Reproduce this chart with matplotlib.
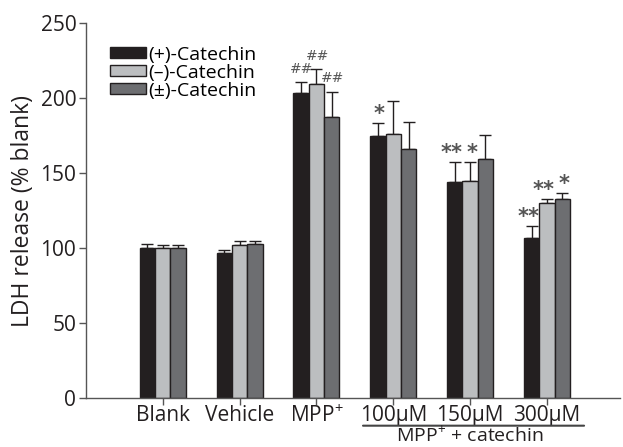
import matplotlib
matplotlib.use("Agg")
import matplotlib.pyplot as plt
import numpy as np

plt.rcParams['font.family'] = ['Open Sans', 'DejaVu Sans']
plt.rcParams['mathtext.fontset'] = 'custom'
plt.rcParams['mathtext.rm'] = 'Open Sans'

groups = ["Blank", "Vehicle", "MPP$^{+}$", "100μM", "150μM", "300μM"]
series = ["(+)-Catechin", "(\u2013)-Catechin", "(\u00b1)-Catechin"]
plus_vals = [100, 97, 203, 174.5, 144, 107]
minus_vals = [100, 102, 209, 176, 144.5, 130]
pm_vals = [100, 103, 187, 166, 159, 133]
plus_err = [2.5, 2, 7.5, 9, 13.5, 7.5]
minus_err = [2, 3, 10, 22, 13, 2.5]
pm_err = [1.8, 1.5, 17, 18, 16.5, 4]
plus_sig = ["", "", "##", "*", "**", "**"]
minus_sig = ["", "", "##", "", "*", "**"]
pm_sig = ["", "", "##", "", "", "*"]

colors = ["#231f20", "#bcbec0", "#6d6e71"]
edge = "#231f20"

fig = plt.figure(figsize=(6.23, 4.47), dpi=100)
ax = fig.add_axes([0.138, 0.109, 0.857, 0.840])

x = np.arange(len(groups))
w = 0.2
vals = [plus_vals, minus_vals, pm_vals]
errs = [plus_err, minus_err, pm_err]
sigs = [plus_sig, minus_sig, pm_sig]
for i in range(3):
    xs = x + (i - 1) * w
    ax.bar(xs, vals[i], w, color=colors[i], edgecolor=edge, linewidth=1.0,
           label=series[i], zorder=2)
    ax.errorbar(xs, vals[i], yerr=[np.zeros(len(x)), errs[i]], fmt='none',
                ecolor="#231f20", elinewidth=1.0, capsize=4, capthick=1.0, zorder=1)
    for xi, v, e, s in zip(xs, vals[i], errs[i], sigs[i]):
        if not s:
            continue
        if s == "##":
            ax.text(xi, v + e + 9, s, ha='center', va='center', fontsize=10,
                    style='italic', color="#555555", family='DejaVu Sans')
        else:
            dx = -0.04 if len(s) == 2 else 0.02
            ax.text(xi + dx, v + e + 6, s, ha='center', va='center',
                    fontsize=15, fontweight='bold', color="#555555", family='DejaVu Sans')

ax.set_xlim(-1.0, 5.95)
ax.set_ylim(0, 250)
ax.set_yticks([0, 50, 100, 150, 200, 250])
ax.set_xticks(x)
ax.set_xticklabels(groups)
ax.tick_params(axis='both', labelsize=15, colors="#231f20", direction='out', length=5,
               width=1.0, color="#555555")
ax.tick_params(axis='x', pad=0, labelsize=15)
ax.tick_params(axis='y', pad=2)
for sp in ['top', 'right']:
    ax.spines[sp].set_visible(False)
for sp in ['left', 'bottom']:
    ax.spines[sp].set_color("#555555")
    ax.spines[sp].set_linewidth(1.0)
ax.set_ylabel("LDH release (% blank)", fontsize=16.5, color="#231f20", labelpad=4)

leg = ax.legend(loc='upper left', bbox_to_anchor=(0.027, 0.965), frameon=False,
                fontsize=14, handlelength=1.85, handleheight=0.5, labelspacing=0.0,
                handletextpad=0.1, borderpad=0)

# group bracket for MPP+ + catechin
ax.annotate("", xy=(2.57, -0.073), xytext=(5.52, -0.073), xycoords=('data', 'axes fraction'),
            textcoords=('data', 'axes fraction'),
            arrowprops=dict(arrowstyle='-', color="#444444", lw=1.5))
fig.text(ax.transData.transform((4.0, 0))[0] / fig.bbox.width, 0.002, "MPP$^{+}$ + catechin",
         ha='center', va='bottom', fontsize=14, color="#231f20")

fig.savefig("out.png", dpi=100)
